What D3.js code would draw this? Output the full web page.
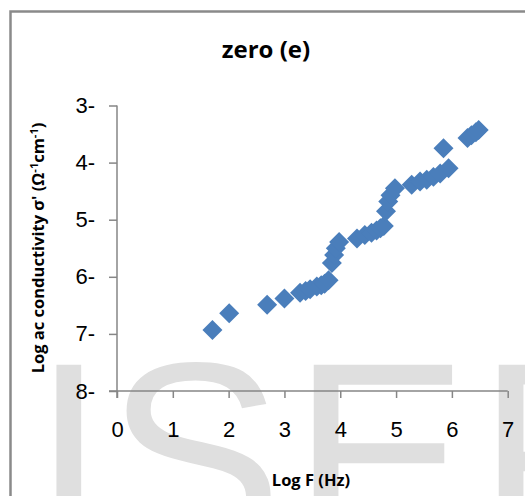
<!DOCTYPE html>
<html>
<head>
<meta charset="utf-8">
<script src="https://cdn.jsdelivr.net/npm/d3@7"></script>
<style>
  html, body { margin: 0; padding: 0; background: #fff; }
</style>
</head>
<body>
<svg id="chart" width="525" height="496"></svg>
<script>
// values
const logF = [1.71, 2.01, 2.69, 3.0, 3.28, 3.38, 3.46, 3.58, 3.66, 3.72, 3.79, 3.85, 3.89, 3.92, 3.98,
              4.30, 4.44, 4.56, 4.65, 4.72, 4.78, 4.82, 4.86, 4.90, 4.98,
              5.28, 5.43, 5.55, 5.67, 5.79, 5.94, 5.85, 6.28, 6.35, 6.43, 6.48];
const logSigma = [6.93, 6.64, 6.49, 6.38, 6.28, 6.25, 6.22, 6.17, 6.15, 6.12, 6.06, 5.76, 5.62, 5.50, 5.39,
                  5.33, 5.27, 5.23, 5.19, 5.15, 5.11, 4.85, 4.68, 4.57, 4.45,
                  4.39, 4.33, 4.30, 4.25, 4.19, 4.10, 3.75, 3.57, 3.52, 3.47, 3.43];
const xTicks = [0, 1, 2, 3, 4, 5, 6, 7];
const yTicks = [3, 4, 5, 6, 7, 8];
const watermark = ["I", "S", "E", "R"];

const svg = d3.select("#chart");

svg.append("rect").attr("width", 525).attr("height", 496).attr("fill", "#fff");

// background watermark
const wmX = [32, 106, 292, 477];
svg.append("g").selectAll("text")
    .data(watermark)
    .enter()
    .append("text")
    .attr("x", (d, i) => wmX[i])
    .attr("y", 547)
    .attr("font-family", "Liberation Sans, Arial, sans-serif")
    .attr("font-size", 265)
    .attr("fill", "#dfdfdf")
    .text(d => d);

// chart frame
svg.append("rect")
    .attr("x", 10.5).attr("y", 11.5)
    .attr("width", 700).attr("height", 700)
    .attr("fill", "none")
    .attr("stroke", "#8a8a8a")
    .attr("stroke-width", 2.5);

const x = d3.scaleLinear().domain([0, 7]).range([117, 507.7]);
const y = d3.scaleLinear().domain([3, 8]).range([105.5, 391]);

// axes
const xAxis = svg.append("g")
    .attr("transform", `translate(0, ${y(8)})`)
    .call(d3.axisBottom(x).tickValues(xTicks).tickSizeInner(7).tickSizeOuter(0).tickPadding(23).tickFormat(d3.format("d")));

const yAxis = svg.append("g")
    .attr("transform", `translate(${x(0)}, 0)`)
    .call(d3.axisLeft(y).tickValues(yTicks).tickSizeInner(8).tickSizeOuter(0).tickPadding(14).tickFormat(d => d + "-"));

[xAxis, yAxis].forEach(a => {
    a.selectAll("path, line").attr("stroke", "#868686").attr("stroke-width", 1.5);
    a.selectAll("text")
        .attr("font-family", "Liberation Sans, Arial, sans-serif")
        .attr("font-size", 22)
        .attr("fill", "#000");
});
xAxis.select(".domain").attr("d", `M${x(0) - 8},0H${x(7)}`);
yAxis.select(".domain").attr("d", `M0,${y(3)}V${y(8) + 7}`);

// points
svg.append("g").selectAll("path")
    .data(logF.map((f, i) => [f, logSigma[i]]))
    .enter()
    .append("path")
    .attr("d", d3.symbol(d3.symbolSquare, 200))
    .attr("transform", d => `translate(${x(d[0])},${y(d[1])}) rotate(45)`)
    .attr("fill", "#4a7ebb");

// titles
const titleFont = "Open Sans, Carlito, Calibri, sans-serif";
svg.append("text")
    .attr("x", 266).attr("y", 58)
    .attr("text-anchor", "middle")
    .attr("font-family", titleFont)
    .attr("font-weight", "bold")
    .attr("font-size", 24)
    .text("zero (e)");

svg.append("text")
    .attr("x", 311).attr("y", 486)
    .attr("text-anchor", "middle")
    .attr("font-family", titleFont)
    .attr("font-weight", "bold")
    .attr("font-size", 16.5)
    .text("Log F (Hz)");

const yTitle = svg.append("text")
    .attr("transform", "translate(44, 248) rotate(-90)")
    .attr("text-anchor", "middle")
    .attr("font-family", titleFont)
    .attr("font-weight", "bold")
    .attr("font-size", 16.5);
yTitle.append("tspan").text("Log ac conductivity σ' (Ω");
yTitle.append("tspan").attr("font-size", 11).attr("dy", -6).text("-1");
yTitle.append("tspan").attr("dy", 6).text("cm");
yTitle.append("tspan").attr("font-size", 11).attr("dy", -6).text("-1");
yTitle.append("tspan").attr("dy", 6).text(")");
</script>
</body>
</html>
